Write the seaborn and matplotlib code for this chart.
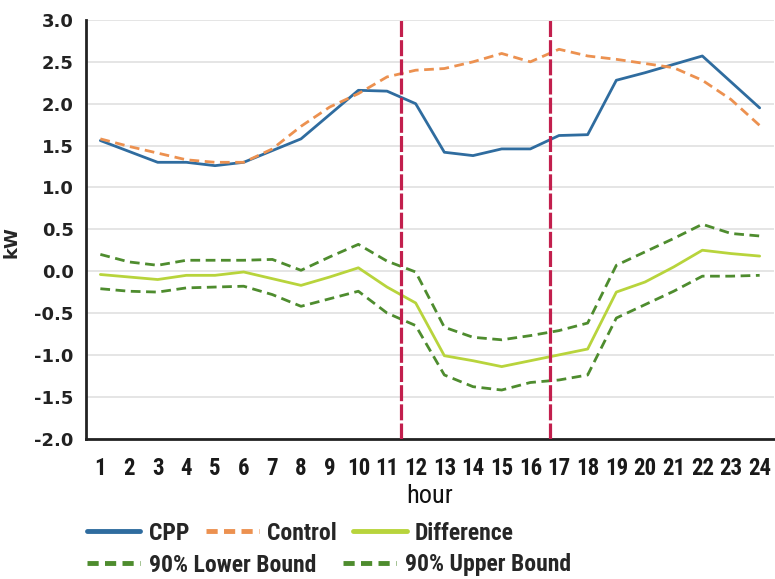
import numpy as np
import pandas as pd
import seaborn as sns
import matplotlib
matplotlib.use("Agg")
import matplotlib.pyplot as plt
from matplotlib.lines import Line2D

# Hourly load (kW)
hours = list(range(1, 25))
cpp = [1.56, 1.43, 1.30, 1.30, 1.26, 1.30, 1.44, 1.58, 1.87, 2.16, 2.15, 2.00,
       1.42, 1.38, 1.46, 1.46, 1.62, 1.63, 2.28, 2.37, 2.47, 2.57, 2.26, 1.95]
control = [1.58, 1.49, 1.41, 1.33, 1.30, 1.30, 1.46, 1.73, 1.96, 2.12, 2.32, 2.40,
           2.42, 2.50, 2.60, 2.50, 2.65, 2.57, 2.53, 2.48, 2.43, 2.28, 2.05, 1.74]
difference = [-0.04, -0.07, -0.10, -0.05, -0.05, -0.01, -0.09, -0.17, -0.07, 0.04, -0.19, -0.38,
              -1.01, -1.07, -1.14, -1.07, -1.00, -0.93, -0.25, -0.13, 0.05, 0.25, 0.21, 0.18]
upper = [0.20, 0.11, 0.07, 0.13, 0.13, 0.13, 0.14, 0.01, 0.17, 0.32, 0.12, -0.01,
         -0.67, -0.79, -0.82, -0.77, -0.71, -0.62, 0.07, 0.23, 0.39, 0.56, 0.45, 0.42]
lower = [-0.21, -0.24, -0.25, -0.20, -0.19, -0.18, -0.28, -0.42, -0.33, -0.24, -0.50, -0.65,
         -1.24, -1.38, -1.42, -1.33, -1.30, -1.24, -0.56, -0.40, -0.24, -0.06, -0.06, -0.05]
event_bounds = [11.5, 16.68]

df = pd.DataFrame({"hour": hours, "CPP": cpp, "Control": control,
                   "Difference": difference, "Lower": lower, "Upper": upper})

sns.set_style("white")
narrow = ["Roboto Condensed", "DejaVu Sans"]

c_cpp = "#2f6c9f"
c_ctrl = "#ec9150"
c_diff = "#b8d43c"
c_bound = "#4e8c2e"
c_red = "#c21f4d"

fig = plt.figure(figsize=(7.75, 5.79), dpi=100)
ax = fig.add_axes([0.111, 0.2425, 0.8877, 0.723])

ax.yaxis.grid(True, color="#e0e0e0", lw=1.2)
ax.set_axisbelow(True)

sns.lineplot(data=df, x="hour", y="CPP", color=c_cpp, lw=2, ax=ax)
sns.lineplot(data=df, x="hour", y="Control", color=c_ctrl, lw=2, ax=ax)
ax.lines[-1].set_dashes((3.5, 2))
sns.lineplot(data=df, x="hour", y="Difference", color=c_diff, lw=2, ax=ax)
sns.lineplot(data=df, x="hour", y="Lower", color=c_bound, lw=2, ax=ax)
ax.lines[-1].set_dashes((3.5, 2))
sns.lineplot(data=df, x="hour", y="Upper", color=c_bound, lw=2, ax=ax)
ax.lines[-1].set_dashes((3.5, 2))

for xb in event_bounds:
    ax.axvline(xb, color=c_red, lw=2.3, dashes=(5, 1.0), zorder=5)

ax.set_xlim(0.5, 24.5)
ax.set_ylim(-2.0, 3.0)
yt = np.arange(-2.0, 3.01, 0.5)
ax.set_yticks(yt)
ax.set_yticklabels([f"{v:.1f}" for v in yt], fontsize=13, fontweight="bold", color="#222222")

# ticks on hour boundaries, labels on hour centres
ax.set_xticks(np.arange(0.5, 24.6, 1))
ax.set_xticklabels([])
ax.set_xticks(hours, minor=True)
ax.set_xticklabels([str(h) for h in hours], minor=True, fontsize=16.5,
                   family=narrow, fontweight="bold", color="#1a1a1a")
ax.tick_params(axis="x", which="major", direction="out", length=5, width=1.5, color="#222222")
ax.tick_params(axis="x", which="minor", length=0, pad=13)
ax.tick_params(axis="y", direction="out", length=6, width=1.5, color="#222222", pad=3)

for s in ["top", "right"]:
    ax.spines[s].set_visible(False)
for s in ["left", "bottom"]:
    ax.spines[s].set_color("#222222")
    ax.spines[s].set_linewidth(2)

ax.set_xlabel("hour", fontsize=19, family=narrow, labelpad=3, color="#111111")
ax.set_ylabel("kW", fontsize=13, fontweight="bold")
ax.yaxis.set_label_coords(-0.095, 0.47)

# legend in two rows, like the original
row1 = [Line2D([], [], color=c_cpp, lw=3.5),
        Line2D([], [], color=c_ctrl, lw=3.5, dashes=(2.3, 1.3)),
        Line2D([], [], color=c_diff, lw=3.5)]
row2 = [Line2D([], [], color=c_bound, lw=3.5, dashes=(2.3, 1.3)),
        Line2D([], [], color=c_bound, lw=3.5, dashes=(2.3, 1.3))]
lkw = dict(frameon=False, handlelength=2.25, handletextpad=0.36, borderpad=0,
           borderaxespad=0, loc="center left",
           prop={"family": narrow, "size": 17, "weight": "bold"})
fig.legend(row1, ["CPP", "Control", "Difference"], ncol=3, columnspacing=0.7,
           bbox_to_anchor=(87 / 775, 1 - 533 / 579), **lkw)
fig.legend(row2, ["90% Lower Bound", "90% Upper Bound"], ncol=2, columnspacing=1.15,
           bbox_to_anchor=(87 / 775, 1 - 565 / 579), **lkw)

fig.savefig("out.png", dpi=100)
